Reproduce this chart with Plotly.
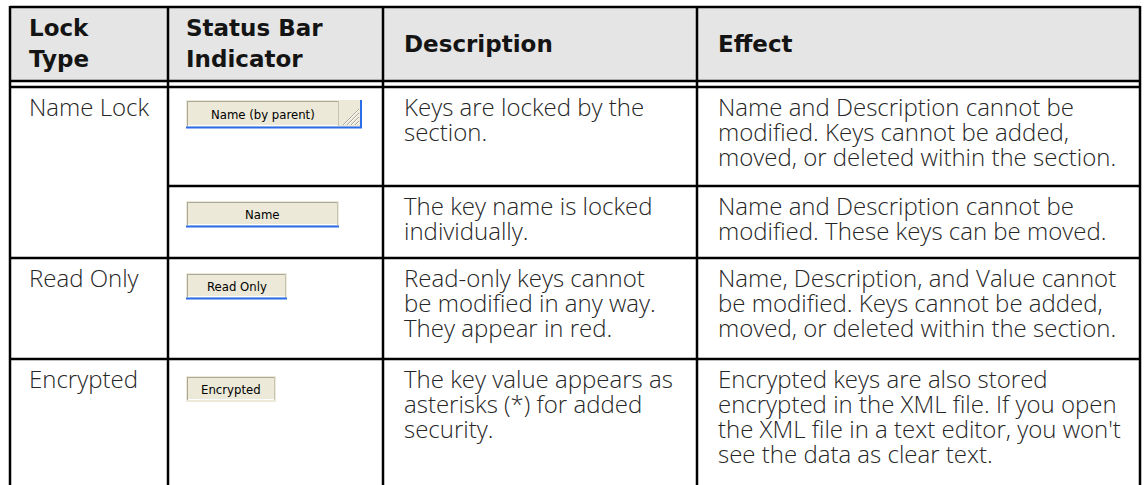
import plotly.graph_objects as go

# ---------------- table content ----------------
header_lines = [["Lock", "Type"], ["Status Bar", "Indicator"], ["Description"], ["Effect"]]
lock_types = ["Name Lock", "", "Read Only", "Encrypted"]  # "" -> merged with the row above
indicator_labels = ["Name (by parent)", "Name", "Read Only", "Encrypted"]
description_lines = [
    ["Keys are locked by the", "section."],
    ["The key name is locked", "individually."],
    ["Read-only keys cannot", "be modified in any way.", "They appear in red."],
    ["The key value appears as", "asterisks (*) for added", "security."],
]
effect_lines = [
    ["Name and Description cannot be", "modified. Keys cannot be added,",
     "moved, or deleted within the section."],
    ["Name and Description cannot be", "modified. These keys can be moved."],
    ["Name, Description, and Value cannot", "be modified. Keys cannot be added,",
     "moved, or deleted within the section."],
    ["Encrypted keys are also stored", "encrypted in the XML file. If you open",
     "the XML file in a text editor, you won't", "see the data as clear text."],
]

# ---------------- geometry / styles ----------------
W, H = 1145, 485
col_x = [10, 168, 383, 697, 1140]
text_x = [27, 184, 402, 716]
top_y = 7
head_rule1, head_rule2 = 81, 87
row_top = [87, 186, 258, 359]
bottom_y = 492
first_base = 29
line_step = 25
rule_w = 2.5
header_fill = "#e5e5e5"
txt_color = "#262626"

body_font = dict(family="Open Sans, Roboto, sans-serif", size=24, color=txt_color, weight=300)
head_font = dict(family="DejaVu Sans, sans-serif", size=23, color="#141414", weight="bold")
panel_font = dict(family="Liberation Sans Narrow, DejaVu Sans Condensed, sans-serif", size=13, color="#000000")
BODY_OFF = 0.388 * body_font["size"]
HEAD_OFF = 0.346 * head_font["size"]

panel_geom = [
    dict(x0=186, x1=362, y0=100, y1=128, split=340, grip=True, blue=True),
    dict(x0=186, x1=339, y0=201, y1=227, split=339, grip=False, blue=True),
    dict(x0=186, x1=287, y0=273, y1=299, split=287, grip=False, blue=True),
    dict(x0=186, x1=276, y0=376, y1=402, split=276, grip=False, blue=False),
]

shapes = []
annotations = []


def line(x0, y0, x1, y1, color="#000000", width=rule_w):
    shapes.append(dict(type="line", xref="x", yref="y", x0=x0, y0=y0, x1=x1, y1=y1,
                       line=dict(color=color, width=width), layer="above"))


def text(x, baseline, s, font, off, xanchor="left"):
    annotations.append(dict(x=x, y=baseline - off, xref="x", yref="y", text=s, showarrow=False,
                            xanchor=xanchor, yanchor="middle", font=font))


# header background
shapes.append(dict(type="rect", xref="x", yref="y", x0=col_x[0], x1=col_x[-1], y0=top_y, y1=head_rule1,
                   fillcolor=header_fill, line=dict(width=0), layer="below"))

# rules
line(col_x[0], top_y, col_x[-1], top_y)
line(col_x[0], head_rule1, col_x[-1], head_rule1)
line(col_x[0], head_rule2, col_x[-1], head_rule2)
for cx in col_x:
    line(cx, top_y - 1, cx, bottom_y)
for i in range(1, len(row_top)):
    start = col_x[1] if lock_types[i] == "" else col_x[0]
    line(start, row_top[i], col_x[-1], row_top[i])

# header text
for c, lines in enumerate(header_lines):
    bases = [36, 67] if len(lines) == 2 else [52]
    for b, s in zip(bases, lines):
        text(text_x[c], b, s, head_font, HEAD_OFF)

# body text
for r in range(len(row_top)):
    b0 = row_top[r] + first_base
    if lock_types[r]:
        text(text_x[0], b0, lock_types[r], body_font, BODY_OFF)
    for k, s in enumerate(description_lines[r]):
        text(text_x[2], b0 + k * line_step, s, body_font, BODY_OFF)
    for k, s in enumerate(effect_lines[r]):
        text(text_x[3], b0 + k * line_step, s, body_font, BODY_OFF)

# status bar indicator panels
for g, label in zip(panel_geom, indicator_labels):
    x0, x1, y0, y1, sp = g["x0"], g["x1"], g["y0"], g["y1"], g["split"]
    shapes.append(dict(type="rect", xref="x", yref="y", x0=x0, x1=x1, y0=y0, y1=y1,
                       fillcolor="#ece9d8", line=dict(width=0), layer="above"))
    line(x0 + 1, y0 + 1.5, sp - 1, y0 + 1.5, "#aca899", 1)
    line(x0 + 1.5, y0 + 1, x0 + 1.5, y1 - 2, "#aca899", 1)
    line(sp - 1.5, y0 + 1, sp - 1.5, y1 - 2, "#c8c4b4", 1)
    line(x0 + 2, y1 - 2.5, sp - 2, y1 - 2.5, "#ffffff", 1)
    if g["grip"]:
        for k in range(4):
            d = 4 + 4 * k
            line(x1 - 3 - d, y1 - 3, x1 - 3, y1 - 3 - d, "#aca899", 1)
            line(x1 - 2 - d, y1 - 3, x1 - 3, y1 - 2 - d, "#ffffff", 1)
        line(x1 - 1, y0, x1 - 1, y1, "#2b6de8", 2)
    if g["blue"]:
        line(x0, y1 - 0.5, x1, y1 - 0.5, "#2b6de8", 2)
    annotations.append(dict(x=(x0 + sp) / 2, y=(y0 + y1) / 2, xref="x", yref="y", text=label,
                            showarrow=False, xanchor="center", yanchor="middle", font=panel_font))

fig = go.Figure(go.Scatter(x=[], y=[], hoverinfo="skip", showlegend=False))
fig.update_layout(
    width=W, height=H, margin=dict(l=0, r=0, t=0, b=0),
    paper_bgcolor="white", plot_bgcolor="white",
    xaxis=dict(range=[0, W], visible=False, fixedrange=True),
    yaxis=dict(range=[H, 0], visible=False, fixedrange=True),
    shapes=shapes, annotations=annotations, showlegend=False,
)
fig.write_html("out.html", config={"displayModeBar": False, "staticPlot": True},
               post_script="document.body.style.margin='0';document.body.style.overflow='hidden';")
